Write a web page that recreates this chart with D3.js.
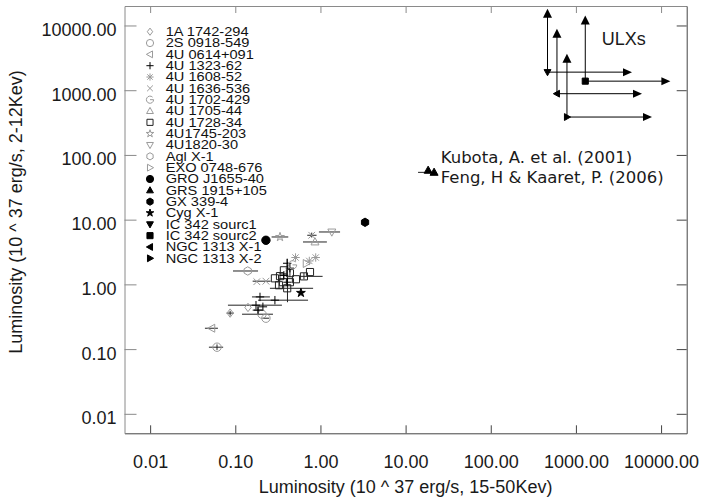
<!DOCTYPE html>
<html><head><meta charset="utf-8">
<script src="https://cdn.jsdelivr.net/npm/d3@7"></script>
<style>body{margin:0;background:#fff}</style>
</head><body><svg id="c" width="701" height="500"></svg>
<script>
// ---------- DATA ----------
const sourceNames = ["1A 1742-294","2S 0918-549","4U 0614+091","4U 1323-62","4U 1608-52","4U 1636-536",
  "4U 1702-429","4U 1705-44","4U 1728-34","4U1745-203","4U1820-30","Agl X-1","EXO 0748-676",
  "GRO J1655-40","GRS 1915+105","GX 339-4","Cyg X-1","IC 342 sourc1","IC 342 sourc2","NGC 1313 X-1","NGC 1313 X-2"];
const tickValues = [0.01, 0.1, 1, 10, 100, 1000, 10000];

// galactic sources: hard (15-50 keV) and soft (2-12 keV) luminosities, 1e37 erg/s
const ptSource = ["4U 0614+091","2S 0918-549","1A 1742-294","2S 0918-549","4U 1323-62","4U 1323-62","4U 1323-62",
  "4U 1323-62","4U 1323-62","1A 1742-294","2S 0918-549","4U 1636-536","4U 1636-536","4U 1636-536",
  "4U 1728-34","4U 1728-34","4U 1728-34","4U 1728-34","4U 1728-34","4U 1728-34","4U 1728-34","4U 1728-34",
  "4U 1728-34","4U 1728-34","4U 1728-34","4U 1323-62","4U 1323-62","4U 1323-62","4U 1323-62",
  "4U 1608-52","4U 1608-52","4U 1608-52","4U 1702-429","EXO 0748-676","Cyg X-1","4U 1705-44","4U1820-30",
  "4U1745-203","GRO J1655-40","Agl X-1","GX 339-4","GRS 1915+105","GRS 1915+105"];
const ptHard   = [0.053,0.061,0.087,0.206,0.175,0.185,0.211,0.292,0.195,0.141,0.229,0.179,0.229,0.79,
  0.292,0.326,0.363,0.335,0.372,0.438,0.438,0.516,0.64,0.754,0.407,0.407,0.438,0.372,0.41,
  0.51,0.74,0.88,0.47,0.68,0.59,0.863,1.36,0.335,0.229,0.140,3.34,18.4,21.6];
const ptSoft   = [0.21,0.107,0.36,0.346,0.477,0.40,0.45,0.57,0.64,0.44,0.30,1.10,1.12,5.74,
  1.24,0.97,1.08,1.34,1.65,1.08,1.49,1.20,1.33,1.55,0.87,2.12,1.78,1.38,1.08,
  2.6,2.3,2.6,2.0,2.1,0.74,4.52,6.45,5.4,4.8,1.61,9.1,57.8,53.8];
const ptHardLo = [0.044,0.049,0.079,0.12,0.082,0.16,null,0.185,0.157,null,0.21,null,0.16,0.70,
  null,null,null,null,null,null,null,null,0.575,null,0.255,null,null,0.33,null,
  null,null,null,null,null,null,0.624,0.96,0.267,null,0.094,null,null,14.0];
const ptHardHi = [0.0625,0.072,0.096,0.277,0.353,0.21,null,0.715,0.255,null,0.25,null,0.26,0.90,
  null,null,null,null,null,null,null,null,1.06,null,0.82,null,null,0.42,null,
  null,null,null,null,null,null,1.19,1.70,0.419,null,0.185,null,null,22.8];
const ptSoftLo = [null,0.097,0.33,null,null,0.36,null,null,null,null,null,null,null,5.3,
  null,0.85,null,1.15,null,null,1.3,null,1.2,null,null,1.8,null,null,0.53,
  null,null,null,null,null,null,null,null,null,null,null,null,null,null];
const ptSoftHi = [null,0.118,0.39,null,null,0.45,null,null,null,null,null,null,null,6.3,
  null,1.10,null,1.55,null,null,1.7,null,1.5,null,null,2.5,null,null,2.2,
  null,null,null,null,null,null,null,null,null,null,null,null,null,null];

// ULXs: positions with lower limits (arrows)
const ulxSource    = ["IC 342 sourc1","IC 342 sourc2","NGC 1313 X-1","NGC 1313 X-2"];
const ulxHard      = [464, 1288, 599, 785];
const ulxSoft      = [1902, 1380, 883, 385];
const ulxHardLimit = [4560, 12860, 5970, 7830];
const ulxSoftLimit = [18100, 14300, 8890, 3660];

// ---------- STYLE ----------
const GRAY = "#9a9a9a";
const symStyle = {
  "1A 1742-294":["diamond",false,GRAY], "2S 0918-549":["circle",false,GRAY], "4U 0614+091":["triLeft",false,GRAY],
  "4U 1323-62":["plus",false,"#000"], "4U 1608-52":["asterisk",false,GRAY], "4U 1636-536":["cross",false,GRAY],
  "4U 1702-429":["gee",false,GRAY], "4U 1705-44":["triUp",false,GRAY], "4U 1728-34":["square",false,"#222"],
  "4U1745-203":["star",false,GRAY], "4U1820-30":["triDown",false,GRAY], "Agl X-1":["hexagon",false,GRAY],
  "EXO 0748-676":["triRight",false,GRAY], "GRO J1655-40":["circle",true,"#000"], "GRS 1915+105":["triUp",true,"#000"],
  "GX 339-4":["hexagon",true,"#000"], "Cyg X-1":["star",true,"#000"], "IC 342 sourc1":["triDown",true,"#000"],
  "IC 342 sourc2":["square",true,"#000"], "NGC 1313 X-1":["triLeft",true,"#000"], "NGC 1313 X-2":["triRight",true,"#000"]
};
function symPath(t, r){
  const p = d3.path();
  const poly = pts => { pts.forEach((q,i)=> i? p.lineTo(q[0],q[1]) : p.moveTo(q[0],q[1])); p.closePath(); };
  switch(t){
    case "circle": p.arc(0,0,r,0,2*Math.PI); p.closePath(); break;
    case "diamond": poly([[0,-r],[r*0.75,0],[0,r],[-r*0.75,0]]); break;
    case "square": { const s=r*0.85; poly([[-s,-s],[s,-s],[s,s],[-s,s]]); break; }
    case "triUp": poly([[0,-r],[r*0.95,r*0.7],[-r*0.95,r*0.7]]); break;
    case "triDown": poly([[0,r],[r*0.95,-r*0.7],[-r*0.95,-r*0.7]]); break;
    case "triLeft": poly([[-r,0],[r*0.7,-r*0.95],[r*0.7,r*0.95]]); break;
    case "triRight": poly([[r,0],[-r*0.7,-r*0.95],[-r*0.7,r*0.95]]); break;
    case "plus": p.moveTo(-r,0); p.lineTo(r,0); p.moveTo(0,-r); p.lineTo(0,r); break;
    case "cross": { const c=r*0.8; p.moveTo(-c,-c); p.lineTo(c,c); p.moveTo(-c,c); p.lineTo(c,-c); break; }
    case "asterisk": { const c=r*0.75; p.moveTo(-r,0); p.lineTo(r,0); p.moveTo(0,-r); p.lineTo(0,r);
      p.moveTo(-c,-c); p.lineTo(c,c); p.moveTo(-c,c); p.lineTo(c,-c); break; }
    case "star": { const pts=[]; for(let i=0;i<10;i++){ const a=-Math.PI/2+i*Math.PI/5, rr=i%2?r*0.42:r*1.1; pts.push([rr*Math.cos(a),rr*Math.sin(a)]);} poly(pts); break; }
    case "hexagon": { const pts=[]; for(let i=0;i<6;i++){ const a=-Math.PI/2+i*Math.PI/3; pts.push([r*Math.cos(a),r*Math.sin(a)]);} poly(pts); break; }
    case "gee": p.moveTo(r*0.7,-r*0.7); p.arc(0,0,r,-Math.PI/4,0,true); p.lineTo(0,0); break;
  }
  return p.toString();
}
function drawSym(g, name, cx, cy, r){
  const [t, filled, col] = symStyle[name];
  g.append("path").attr("d", symPath(t,r)).attr("transform",`translate(${cx},${cy})`)
    .attr("fill", filled ? col : "none").attr("stroke", col).attr("stroke-width", 1);
}

// ---------- CHART ----------
const FONT = "'Liberation Sans', Arial, Helvetica, sans-serif";
const svg = d3.select("#c");
const x = d3.scaleLog().domain([0.005, 20000]).range([124.5, 686.7]);
const y = d3.scaleLog().domain([0.005, 20000]).range([433.3, 6]);
const fmt = d3.format(".2f");

const gB = svg.append("g").attr("transform","translate(0,433.3)").attr("color","#444")
  .call(d3.axisBottom(x).tickValues(tickValues).tickFormat(fmt).tickSize(-8).tickSizeOuter(0).tickPadding(22));
const gL = svg.append("g").attr("transform","translate(124.5,0)").attr("color","#8a8a8a")
  .call(d3.axisLeft(y).tickValues(tickValues).tickFormat(fmt).tickSize(-12).tickSizeOuter(0).tickPadding(8));
svg.append("g").attr("transform","translate(0,6)").attr("color","#8a8a8a")
  .call(d3.axisTop(x).tickValues(tickValues).tickFormat("").tickSize(-7).tickSizeOuter(0));
svg.append("g").attr("transform","translate(686.7,0)").attr("color","#444")
  .call(d3.axisRight(y).tickValues(tickValues).tickFormat("").tickSize(-10).tickSizeOuter(0));
svg.selectAll(".tick text").attr("fill","#1a1a1a").style("font-family",FONT).style("font-size","18px");
gL.selectAll(".tick text").attr("dy","0.55em");

// axis titles
svg.append("text").attr("x",405.6).attr("y",493).attr("text-anchor","middle")
  .style("font-family",FONT).style("font-size","18px").attr("fill","#1a1a1a")
  .text("Luminosity (10 ^ 37 erg/s, 15-50Kev)");
svg.append("text").attr("transform","translate(22,212) rotate(-90)").attr("text-anchor","middle")
  .style("font-family",FONT).style("font-size","18px").attr("fill","#1a1a1a")
  .text("Luminosity (10 ^ 37 erg/s, 2-12Kev)");

// error bars
const eb = svg.append("g").attr("stroke","#222").attr("stroke-width",1);
ptHard.forEach((v,i)=>{
  if(ptHardLo[i]!=null) eb.append("line").attr("x1",x(ptHardLo[i])).attr("x2",x(ptHardHi[i])).attr("y1",y(ptSoft[i])).attr("y2",y(ptSoft[i]));
  if(ptSoftLo[i]!=null) eb.append("line").attr("x1",x(v)).attr("x2",x(v)).attr("y1",y(ptSoftLo[i])).attr("y2",y(ptSoftHi[i]));
});
// points
const pg = svg.append("g");
ptHard.forEach((v,i)=> drawSym(pg, ptSource[i], x(v), y(ptSoft[i]), 4.2));

// ULX limits
const ug = svg.append("g");
ulxHard.forEach((v,i)=>{
  const px=x(v), py=y(ulxSoft[i]), tx=x(ulxHardLimit[i]), ty=y(ulxSoftLimit[i]);
  ug.append("line").attr("x1",px).attr("x2",px).attr("y1",py).attr("y2",ty+6).attr("stroke","#000");
  ug.append("line").attr("x1",px).attr("x2",tx-6).attr("y1",py).attr("y2",py).attr("stroke","#000");
  ug.append("path").attr("d",`M${px},${ty} L${px-4.5},${ty+9} L${px+4.5},${ty+9} Z`).attr("fill","#000");
  ug.append("path").attr("d",`M${tx},${py} L${tx-9},${py-4} L${tx-9},${py+4} Z`).attr("fill","#000");
  drawSym(ug, ulxSource[i], px, py, 3.6);
});

// legend
const lg = svg.append("g");
sourceNames.forEach((n,i)=>{
  const ry = 31.7 + i*11.33;
  drawSym(lg, n, 150, ry, 3.6);
  lg.append("text").attr("transform",`translate(165.7,${ry+4.4}) scale(1.17,1)`).text(n)
    .style("font-family",FONT).style("font-size","12.5px").attr("fill","#111");
});

// annotations
svg.append("text").attr("x",601.7).attr("y",45).text("ULXs")
  .style("font-family",FONT).style("font-size","18px").attr("fill","#1a1a1a");
const DV = "'DejaVu Sans', sans-serif";
svg.append("text").attr("x",440.7).attr("y",163.3).text("Kubota, A. et al. (2001)")
  .style("font-family",DV).style("font-size","16.5px").attr("fill","#1a1a1a");
svg.append("text").attr("x",440.7).attr("y",183.3).text("Feng, H & Kaaret, P. (2006)")
  .style("font-family",DV).style("font-size","16.5px").attr("fill","#1a1a1a");
</script></body></html>
